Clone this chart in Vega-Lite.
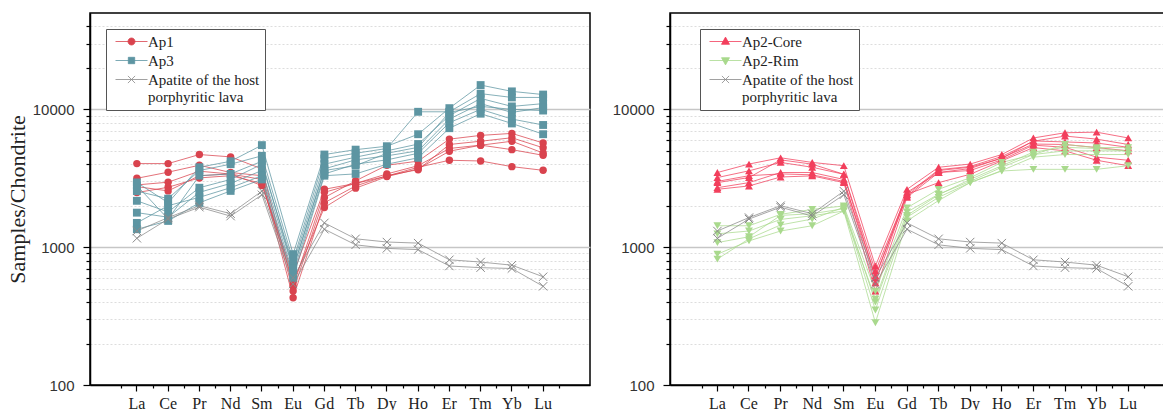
{
  "$schema": "https://vega.github.io/schema/vega-lite/v6.json",
  "padding": {"left": 5, "top": 12, "right": 0, "bottom": 0},
  "background": "white",
  "config": {
    "view": {"stroke": "black", "strokeWidth": 1.5},
    "concat": {"spacing": 20}
  },
  "datasets": {
    "left": [
      {"g": "Ap1", "s": "a1", "La": 4040, "Ce": 4040, "Pr": 4700, "Nd": 4520, "Sm": 3700, "Eu": 520, "Gd": 2500, "Tb": 2900, "Dy": 3280, "Ho": 3800, "Er": 4270, "Tm": 4220, "Yb": 3840, "Lu": 3610},
      {"g": "Ap1", "s": "a2", "La": 3160, "Ce": 3500, "Pr": 3930, "Nd": 3480, "Sm": 3300, "Eu": 480, "Gd": 2290, "Tb": 3030, "Dy": 3930, "Ho": 4210, "Er": 6080, "Tm": 6470, "Yb": 6690, "Lu": 5700},
      {"g": "Ap1", "s": "a3", "La": 2830, "Ce": 2960, "Pr": 3560, "Nd": 3390, "Sm": 3100, "Eu": 430, "Gd": 2100, "Tb": 2780, "Dy": 3300, "Ho": 3650, "Er": 5560, "Tm": 5870, "Yb": 6220, "Lu": 5260},
      {"g": "Ap1", "s": "a4", "La": 2490, "Ce": 2720, "Pr": 3180, "Nd": 3300, "Sm": 2900, "Eu": 560, "Gd": 1940, "Tb": 2680, "Dy": 3250, "Ho": 3700, "Er": 4970, "Tm": 5490, "Yb": 5870, "Lu": 4820},
      {"g": "Ap1", "s": "a5", "La": 2750, "Ce": 2560, "Pr": 3300, "Nd": 3400, "Sm": 2800, "Eu": 635, "Gd": 2630, "Tb": 2900, "Dy": 3400, "Ho": 3900, "Er": 5200, "Tm": 5500, "Yb": 5100, "Lu": 4640},
      {"g": "Ap3", "s": "b1", "La": 2950, "Ce": 2100, "Pr": 3800, "Nd": 4200, "Sm": 5500, "Eu": 890, "Gd": 4700, "Tb": 5100, "Dy": 5400, "Ho": 6600, "Er": 10200, "Tm": 15000, "Yb": 13500, "Lu": 12800},
      {"g": "Ap3", "s": "b2", "La": 2550, "Ce": 2250, "Pr": 3600, "Nd": 4000, "Sm": 4600, "Eu": 800, "Gd": 4400, "Tb": 4800, "Dy": 5200, "Ho": 9600, "Er": 9600, "Tm": 13000, "Yb": 12200, "Lu": 12200},
      {"g": "Ap3", "s": "b3", "La": 2170, "Ce": 1800, "Pr": 2700, "Nd": 3100, "Sm": 4000, "Eu": 750, "Gd": 4000, "Tb": 4500, "Dy": 5000, "Ho": 5600, "Er": 9000, "Tm": 12000, "Yb": 10500, "Lu": 11000},
      {"g": "Ap3", "s": "b4", "La": 1780, "Ce": 1650, "Pr": 2500, "Nd": 2900, "Sm": 3600, "Eu": 700, "Gd": 3700, "Tb": 4300, "Dy": 4600, "Ho": 5000, "Er": 8500, "Tm": 11000, "Yb": 9500, "Lu": 10300},
      {"g": "Ap3", "s": "b5", "La": 1500, "Ce": 2000, "Pr": 2300, "Nd": 2700, "Sm": 3300, "Eu": 650, "Gd": 3400, "Tb": 4000, "Dy": 4300, "Ho": 4800, "Er": 8000, "Tm": 10000, "Yb": 8500, "Lu": 7700},
      {"g": "Ap3", "s": "b6", "La": 1350, "Ce": 1550, "Pr": 2100, "Nd": 2560, "Sm": 3100, "Eu": 600, "Gd": 3300, "Tb": 3400, "Dy": 4000, "Ho": 4450, "Er": 7300, "Tm": 9300, "Yb": 7900, "Lu": 6600},
      {"g": "Ap3", "s": "b7", "La": 2800, "Ce": 1600, "Pr": 3300, "Nd": 3400, "Sm": 4200, "Eu": 700, "Gd": 3600, "Tb": 3900, "Dy": 4800, "Ho": 5300, "Er": 9500, "Tm": 10500, "Yb": 10000, "Lu": 9800},
      {"g": "Apatite of the host porphyritic lava", "s": "h1", "La": 1310, "Ce": 1640, "Pr": 2000, "Nd": 1750, "Sm": 2550, "Eu": 600, "Gd": 1500, "Tb": 1150, "Dy": 1090, "Ho": 1070, "Er": 810, "Tm": 780, "Yb": 740, "Lu": 610},
      {"g": "Apatite of the host porphyritic lava", "s": "h2", "La": 1160, "Ce": 1600, "Pr": 1950, "Nd": 1680, "Sm": 2400, "Eu": 540, "Gd": 1350, "Tb": 1040, "Dy": 980, "Ho": 960, "Er": 730, "Tm": 710, "Yb": 700, "Lu": 520}
    ],
    "right": [
      {"g": "Ap2-Core", "s": "c1", "La": 3480, "Ce": 4010, "Pr": 4450, "Nd": 4120, "Sm": 3900, "Eu": 730, "Gd": 2630, "Tb": 3800, "Dy": 4010, "Ho": 4700, "Er": 6200, "Tm": 6760, "Yb": 6830, "Lu": 6200},
      {"g": "Ap2-Core", "s": "c2", "La": 3200, "Ce": 3580, "Pr": 4120, "Nd": 3800, "Sm": 3380, "Eu": 670, "Gd": 2420, "Tb": 3650, "Dy": 3850, "Ho": 4550, "Er": 5870, "Tm": 6400, "Yb": 6080, "Lu": 5560},
      {"g": "Ap2-Core", "s": "c3", "La": 2940, "Ce": 3200, "Pr": 4300, "Nd": 4000, "Sm": 3380, "Eu": 600, "Gd": 2500, "Tb": 3480, "Dy": 3720, "Ho": 4450, "Er": 5600, "Tm": 5560, "Yb": 5280, "Lu": 5000},
      {"g": "Ap2-Core", "s": "c4", "La": 2700, "Ce": 2940, "Pr": 3480, "Nd": 3480, "Sm": 3100, "Eu": 550, "Gd": 2420, "Tb": 2940, "Dy": 3380, "Ho": 4230, "Er": 5280, "Tm": 5000, "Yb": 4270, "Lu": 3900},
      {"g": "Ap2-Core", "s": "c5", "La": 2630, "Ce": 2780, "Pr": 3230, "Nd": 3290, "Sm": 2940, "Eu": 480, "Gd": 2300, "Tb": 3480, "Dy": 3600, "Ho": 4300, "Er": 5500, "Tm": 5300, "Yb": 4500, "Lu": 4270},
      {"g": "Ap2-Core", "s": "c6", "La": 3000, "Ce": 3300, "Pr": 3400, "Nd": 3350, "Sm": 3000, "Eu": 620, "Gd": 2350, "Tb": 3600, "Dy": 3800, "Ho": 4400, "Er": 5900, "Tm": 5800, "Yb": 5700, "Lu": 5300},
      {"g": "Ap2-Rim", "s": "r1", "La": 1430, "Ce": 1430, "Pr": 1730, "Nd": 1880, "Sm": 1990, "Eu": 480, "Gd": 1930, "Tb": 2630, "Dy": 3190, "Ho": 4120, "Er": 4700, "Tm": 5560, "Yb": 5280, "Lu": 5280},
      {"g": "Ap2-Rim", "s": "r2", "La": 1250, "Ce": 1310, "Pr": 1590, "Nd": 1690, "Sm": 1830, "Eu": 420, "Gd": 1800, "Tb": 2420, "Dy": 3000, "Ho": 3800, "Er": 4700, "Tm": 5000, "Yb": 5000, "Lu": 5000},
      {"g": "Ap2-Rim", "s": "r3", "La": 1080, "Ce": 1190, "Pr": 1700, "Nd": 1750, "Sm": 1900, "Eu": 350, "Gd": 1650, "Tb": 2300, "Dy": 2940, "Ho": 3600, "Er": 4500, "Tm": 4700, "Yb": 4700, "Lu": 4700},
      {"g": "Ap2-Rim", "s": "r4", "La": 890, "Ce": 1110, "Pr": 1310, "Nd": 1430, "Sm": 1830, "Eu": 283, "Gd": 1550, "Tb": 2180, "Dy": 2940, "Ho": 3570, "Er": 3670, "Tm": 3670, "Yb": 3670, "Lu": 3900},
      {"g": "Ap2-Rim", "s": "r5", "La": 820, "Ce": 1150, "Pr": 1450, "Nd": 1600, "Sm": 1950, "Eu": 400, "Gd": 1700, "Tb": 2400, "Dy": 3100, "Ho": 3900, "Er": 4900, "Tm": 5300, "Yb": 5200, "Lu": 5000},
      {"g": "Apatite of the host porphyritic lava", "s": "h1", "La": 1310, "Ce": 1640, "Pr": 2000, "Nd": 1750, "Sm": 2550, "Eu": 600, "Gd": 1500, "Tb": 1150, "Dy": 1090, "Ho": 1070, "Er": 810, "Tm": 780, "Yb": 740, "Lu": 610},
      {"g": "Apatite of the host porphyritic lava", "s": "h2", "La": 1160, "Ce": 1600, "Pr": 1950, "Nd": 1680, "Sm": 2400, "Eu": 540, "Gd": 1350, "Tb": 1040, "Dy": 980, "Ho": 960, "Er": 730, "Tm": 710, "Yb": 700, "Lu": 520}
    ]
  },
  "resolve": {"scale": {"x": "independent", "y": "independent", "color": "independent"}},
  "hconcat": [
    {
      "width": 500,
      "height": 372,
      "data": {"name": "left"},
      "transform": [{"fold": ["La", "Ce", "Pr", "Nd", "Sm", "Eu", "Gd", "Tb", "Dy", "Ho", "Er", "Tm", "Yb", "Lu"], "as": ["el", "v"]}],
      "encoding": {
        "y": {"field": "v", "type": "quantitative",
          "scale": {"type": "log", "domain": [100, 50000], "nice": false},
          "axis": {"title": "Samples/Chondrite",
            "values": [100, 200, 300, 400, 500, 600, 700, 800, 900, 1000, 2000, 3000, 4000, 5000, 6000, 7000, 8000, 9000, 10000, 20000, 30000, 40000],
            "labelExpr": "indexof([100,1000,10000], datum.value) >= 0 ? format(datum.value, 'd') : ''",
            "labelOverlap": false,
            "tickSize": {"condition": {"test": "indexof([100,1000,10000], datum.value) >= 0", "value": 7}, "value": 4},
            "grid": true,
            "gridColor": {"condition": {"test": "indexof([1000,10000], datum.value) >= 0", "value": "#c6c6c6"}, "value": "#dddddd"},
            "gridDash": {"condition": {"test": "indexof([1000,10000], datum.value) >= 0", "value": []}, "value": [2, 2]},
            "gridWidth": {"condition": {"test": "indexof([1000,10000], datum.value) >= 0", "value": 1.5}, "value": 1},
            "labelFont": "Liberation Sans", "labelFontSize": 15, "labelColor": "#333", "labelPadding": 9,
            "titleFont": "Liberation Serif", "titleFontSize": 22, "titleFontWeight": "normal", "titleColor": "#222", "titlePadding": 3,
            "domainColor": "black", "domainWidth": 1.5, "tickColor": "black", "tickWidth": 1.2}},
        "color": {"field": "g", "type": "nominal",
          "scale": {"domain": ["Ap1", "Ap3", "Apatite of the host porphyritic lava"], "range": ["#d9434e", "#5d95a2", "#8a8a8a"]},
          "legend": {"title": null, "orient": "none", "legendX": 16, "legendY": 16,
            "strokeColor": "#555", "fillColor": "white", "padding": 5,
            "symbolSize": 64, "symbolOffset": 13, "labelOffset": 9, "rowPadding": 3,
            "labelFont": "Liberation Serif", "labelFontSize": 15, "labelColor": "#222", "labelLimit": 300,
            "labelExpr": "datum.value == 'Apatite of the host porphyritic lava' ? ['Apatite of the host', 'porphyritic lava'] : datum.label",
            "encode": {
              "symbols": {"update": {
                "shape": {"signal": "datum.value == 'Ap1' ? 'M-4,0L4,0M-0.875,0A0.875,0.875 0 1,1 0.875,0A0.875,0.875 0 1,1 -0.875,0Z' : datum.value == 'Ap3' ? 'M-4,0L4,0M-0.8,-0.8L0.8,-0.8L0.8,0.8L-0.8,0.8Z' : 'M-4,0L4,0M-0.9,-0.9L0.9,0.9M-0.9,0.9L0.9,-0.9'"},
                "fill": {"signal": "datum.value == 'Ap1' ? '#d9434e' : datum.value == 'Ap3' ? '#5d95a2' : 'transparent'"},
                "stroke": {"signal": "datum.value == 'Ap1' ? '#d9434e' : datum.value == 'Ap3' ? '#5d95a2' : '#8a8a8a'"},
                "strokeWidth": {"value": 1}, "opacity": {"value": 1}, "fillOpacity": {"value": 1}, "strokeOpacity": {"value": 0.8}, "size": {"value": 64}}}
            }}}
      },
      "resolve": {"axis": {"x": "independent"}},
      "layer": [
        {"mark": {"type": "line", "strokeWidth": 1, "strokeOpacity": 0.75},
          "encoding": {
            "x": {"field": "el", "type": "nominal", "scale": {"type": "band", "domain": ["La", "Ce", "Pr", "Nd", "Sm", "Eu", "Gd", "Tb", "Dy", "Ho", "Er", "Tm", "Yb", "Lu"], "paddingInner": 0, "paddingOuter": 1},
              "axis": {"orient": "bottom", "title": null, "labelAngle": 0, "tickBand": "center", "tickSize": 6, "labelPadding": 4,
                "labelFont": "Liberation Serif", "labelFontSize": 16, "labelColor": "#222", "domainColor": "black", "domainWidth": 1.5, "tickColor": "black", "tickWidth": 1.2}},
            "detail": {"field": "s"}}},
        {"mark": {"type": "point", "filled": true, "shape": "circle", "size": 55, "opacity": 1},
          "transform": [{"filter": "datum.g == 'Ap1'"}],
          "encoding": {
            "x": {"field": "el", "type": "nominal", "scale": {"type": "band", "domain": ["La", "Ce", "Pr", "Nd", "Sm", "Eu", "Gd", "Tb", "Dy", "Ho", "Er", "Tm", "Yb", "Lu"], "paddingInner": 0, "paddingOuter": 1},
              "axis": {"orient": "bottom", "title": null, "labels": false, "domain": false, "tickBand": "extent", "tickSize": 3, "tickColor": "black", "tickWidth": 1.2}}}},
        {"mark": {"type": "point", "filled": true, "shape": "square", "size": 62, "opacity": 1},
          "transform": [{"filter": "datum.g == 'Ap3'"}],
          "encoding": {
            "x": {"field": "el", "type": "nominal", "scale": {"type": "band", "domain": ["La", "Ce", "Pr", "Nd", "Sm", "Eu", "Gd", "Tb", "Dy", "Ho", "Er", "Tm", "Yb", "Lu"], "paddingInner": 0, "paddingOuter": 1}, "axis": null}}},
        {"mark": {"type": "point", "filled": false, "shape": "M-1,-1L1,1M-1,1L1,-1", "size": 70, "strokeWidth": 1, "opacity": 1},
          "transform": [{"filter": "datum.g == 'Apatite of the host porphyritic lava'"}],
          "encoding": {
            "x": {"field": "el", "type": "nominal", "scale": {"type": "band", "domain": ["La", "Ce", "Pr", "Nd", "Sm", "Eu", "Gd", "Tb", "Dy", "Ho", "Er", "Tm", "Yb", "Lu"], "paddingInner": 0, "paddingOuter": 1}, "axis": null}}}
      ]
    },
    {
      "width": 496,
      "height": 372,
      "data": {"name": "right"},
      "transform": [{"fold": ["La", "Ce", "Pr", "Nd", "Sm", "Eu", "Gd", "Tb", "Dy", "Ho", "Er", "Tm", "Yb", "Lu"], "as": ["el", "v"]}],
      "encoding": {
        "y": {"field": "v", "type": "quantitative",
          "scale": {"type": "log", "domain": [100, 50000], "nice": false},
          "axis": {"title": null,
            "values": [100, 200, 300, 400, 500, 600, 700, 800, 900, 1000, 2000, 3000, 4000, 5000, 6000, 7000, 8000, 9000, 10000, 20000, 30000, 40000],
            "labelExpr": "indexof([100,1000,10000], datum.value) >= 0 ? format(datum.value, 'd') : ''",
            "labelOverlap": false,
            "tickSize": {"condition": {"test": "indexof([100,1000,10000], datum.value) >= 0", "value": 7}, "value": 4},
            "grid": true,
            "gridColor": {"condition": {"test": "indexof([1000,10000], datum.value) >= 0", "value": "#c6c6c6"}, "value": "#dddddd"},
            "gridDash": {"condition": {"test": "indexof([1000,10000], datum.value) >= 0", "value": []}, "value": [2, 2]},
            "gridWidth": {"condition": {"test": "indexof([1000,10000], datum.value) >= 0", "value": 1.5}, "value": 1},
            "labelFont": "Liberation Sans", "labelFontSize": 15, "labelColor": "#333", "labelPadding": 9,
            "domainColor": "black", "domainWidth": 1.5, "tickColor": "black", "tickWidth": 1.2}},
        "color": {"field": "g", "type": "nominal",
          "scale": {"domain": ["Ap2-Core", "Ap2-Rim", "Apatite of the host porphyritic lava"], "range": ["#f23f5c", "#a9d98d", "#8a8a8a"]},
          "legend": {"title": null, "orient": "none", "legendX": 30, "legendY": 16,
            "strokeColor": "#555", "fillColor": "white", "padding": 5,
            "symbolSize": 64, "symbolOffset": 13, "labelOffset": 9, "rowPadding": 3,
            "labelFont": "Liberation Serif", "labelFontSize": 15, "labelColor": "#222", "labelLimit": 300,
            "labelExpr": "datum.value == 'Apatite of the host porphyritic lava' ? ['Apatite of the host', 'porphyritic lava'] : datum.label",
            "encode": {
              "symbols": {"update": {
                "shape": {"signal": "datum.value == 'Ap2-Core' ? 'M-4,0L4,0M0,-1.1L1,0.7L-1,0.7Z' : datum.value == 'Ap2-Rim' ? 'M-4,0L4,0M0,1.1L1,-0.7L-1,-0.7Z' : 'M-4,0L4,0M-0.9,-0.9L0.9,0.9M-0.9,0.9L0.9,-0.9'"},
                "fill": {"signal": "datum.value == 'Ap2-Core' ? '#f23f5c' : datum.value == 'Ap2-Rim' ? '#a9d98d' : 'transparent'"},
                "stroke": {"signal": "datum.value == 'Ap2-Core' ? '#f23f5c' : datum.value == 'Ap2-Rim' ? '#a9d98d' : '#8a8a8a'"},
                "strokeWidth": {"value": 1}, "opacity": {"value": 1}, "fillOpacity": {"value": 1}, "strokeOpacity": {"value": 0.8}, "size": {"value": 64}}}
            }}}
      },
      "resolve": {"axis": {"x": "independent"}},
      "layer": [
        {"mark": {"type": "line", "strokeWidth": 1, "strokeOpacity": 0.75},
          "encoding": {
            "x": {"field": "el", "type": "nominal", "scale": {"type": "band", "domain": ["La", "Ce", "Pr", "Nd", "Sm", "Eu", "Gd", "Tb", "Dy", "Ho", "Er", "Tm", "Yb", "Lu"], "paddingInner": 0, "paddingOuter": 0.848, "align": 0.5896},
              "axis": {"orient": "bottom", "title": null, "labelAngle": 0, "tickBand": "center", "tickSize": 6, "labelPadding": 4,
                "labelFont": "Liberation Serif", "labelFontSize": 16, "labelColor": "#222", "domainColor": "black", "domainWidth": 1.5, "tickColor": "black", "tickWidth": 1.2}},
            "detail": {"field": "s"}}},
        {"mark": {"type": "point", "filled": true, "shape": "triangle-up", "size": 62, "opacity": 1},
          "transform": [{"filter": "datum.g == 'Ap2-Core'"}],
          "encoding": {
            "x": {"field": "el", "type": "nominal", "scale": {"type": "band", "domain": ["La", "Ce", "Pr", "Nd", "Sm", "Eu", "Gd", "Tb", "Dy", "Ho", "Er", "Tm", "Yb", "Lu"], "paddingInner": 0, "paddingOuter": 0.848, "align": 0.5896},
              "axis": {"orient": "bottom", "title": null, "labels": false, "domain": false, "tickBand": "extent", "tickSize": 3, "tickColor": "black", "tickWidth": 1.2}}}},
        {"mark": {"type": "point", "filled": true, "shape": "triangle-down", "size": 62, "opacity": 1},
          "transform": [{"filter": "datum.g == 'Ap2-Rim'"}],
          "encoding": {
            "x": {"field": "el", "type": "nominal", "scale": {"type": "band", "domain": ["La", "Ce", "Pr", "Nd", "Sm", "Eu", "Gd", "Tb", "Dy", "Ho", "Er", "Tm", "Yb", "Lu"], "paddingInner": 0, "paddingOuter": 0.848, "align": 0.5896}, "axis": null}}},
        {"mark": {"type": "point", "filled": false, "shape": "M-1,-1L1,1M-1,1L1,-1", "size": 70, "strokeWidth": 1, "opacity": 1},
          "transform": [{"filter": "datum.g == 'Apatite of the host porphyritic lava'"}],
          "encoding": {
            "x": {"field": "el", "type": "nominal", "scale": {"type": "band", "domain": ["La", "Ce", "Pr", "Nd", "Sm", "Eu", "Gd", "Tb", "Dy", "Ho", "Er", "Tm", "Yb", "Lu"], "paddingInner": 0, "paddingOuter": 0.848, "align": 0.5896}, "axis": null}}}
      ]
    }
  ]
}
